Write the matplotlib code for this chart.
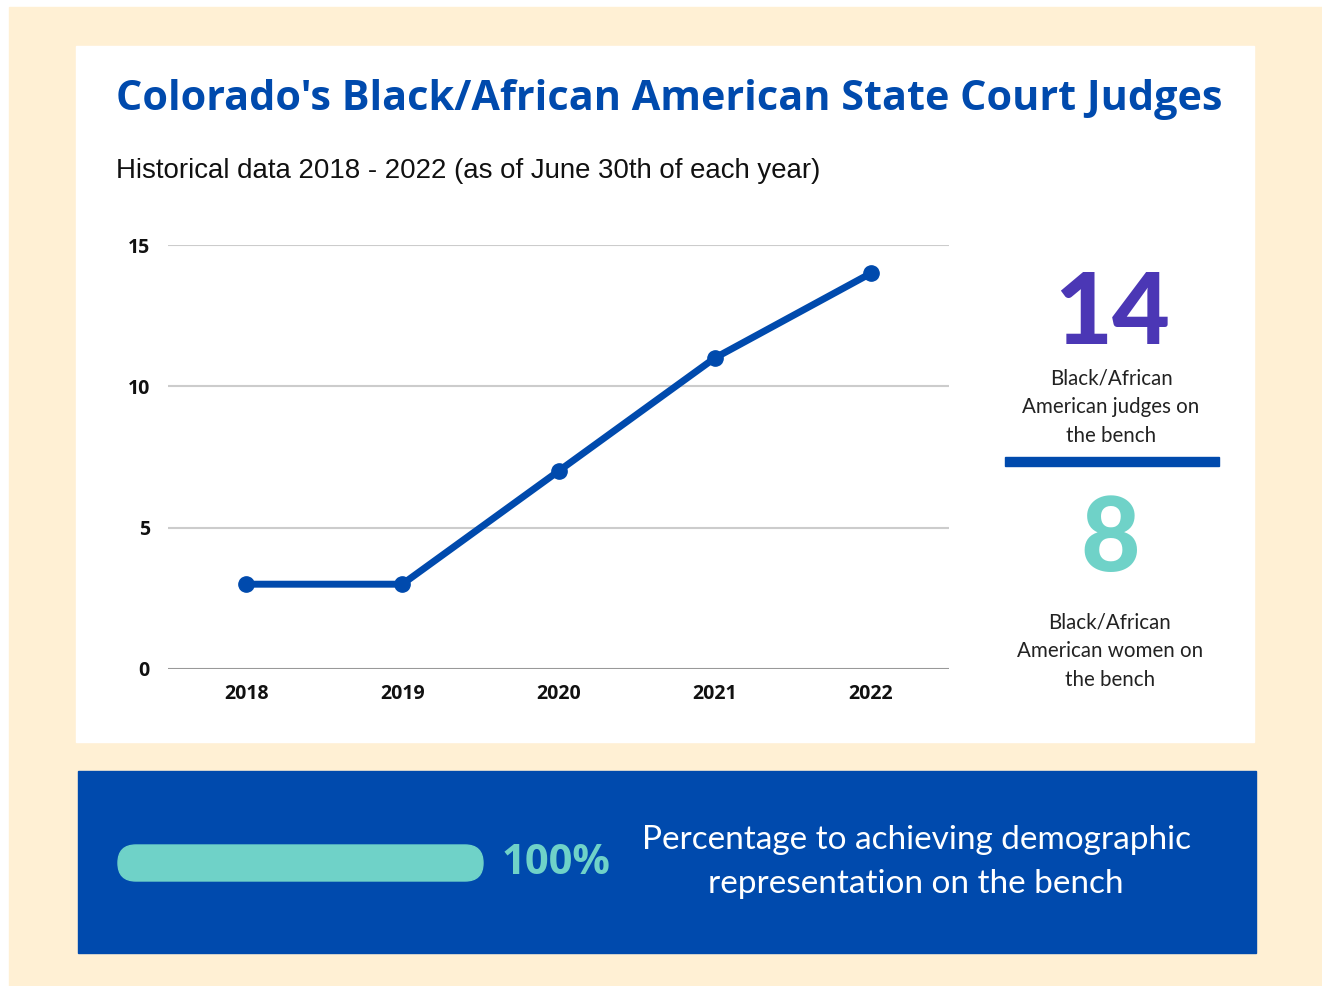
import matplotlib

matplotlib.use("Agg")

import matplotlib.pyplot as plt  # noqa: E402
from matplotlib.patches import FancyBboxPatch, Rectangle  # noqa: E402

# data
years = ["2018", "2019", "2020", "2021", "2022"]
judges = [3, 3, 7, 11, 14]
y_ticks = [0, 5, 10, 15]
total_judges = 14
women_judges = 8
pct_done = 100

BLUE = "#004AAD"
TEAL = "#6FD2C8"
PURPLE = "#4B37B5"
CREAM = "#FFF0D4"

W, H = 1322, 986
fig = plt.figure(figsize=(W / 100, H / 100), dpi=100)

# background canvas in pixel coords
bg = fig.add_axes([0, 0, 1, 1])
bg.set_xlim(0, W)
bg.set_ylim(H, 0)
bg.axis("off")
bg.add_patch(Rectangle((9, 7), W - 9, H - 7, color=CREAM, zorder=0))
bg.add_patch(Rectangle((76, 46), 1178, 696, color="white", zorder=1))
bg.add_patch(Rectangle((78, 771), 1178, 182, color=BLUE, zorder=1))

bg.text(116, 99, "Colorado's Black/African American State Court Judges",
        fontsize=29.8, fontweight="bold", family="Open Sans", color=BLUE,
        ha="left", va="center", zorder=3)
bg.text(116, 171, "Historical data 2018 - 2022 (as of June 30th of each year)",
        fontsize=19.9, family="Liberation Sans", color="#111111",
        ha="left", va="center", zorder=3)

# side stats
bg.text(1112, 316, str(total_judges), fontsize=72, fontweight="black",
        family="Lato", color=PURPLE, ha="center", va="center", zorder=3)
bg.text(1111, 407, "Black/African\nAmerican judges on\nthe bench", fontsize=14.8,
        family="Lato", color="#222222", ha="center", va="center",
        linespacing=1.55, zorder=3)
bg.add_patch(Rectangle((1005, 457), 214, 9, color=BLUE, zorder=3))
bg.text(1110, 541, str(women_judges), fontsize=74, fontweight="black",
        family="Lato", color=TEAL, ha="center", va="center", zorder=3)
bg.text(1110, 651, "Black/African\nAmerican women on\nthe bench", fontsize=14.8,
        family="Lato", color="#222222", ha="center", va="center",
        linespacing=1.55, zorder=3)

# progress pill
bar_len = 365 * pct_done / 100
bg.add_patch(FancyBboxPatch((118, 845), bar_len, 36,
                            boxstyle="round,pad=0,rounding_size=18",
                            color=TEAL, zorder=3))
bg.text(502, 864, f"{pct_done}%", fontsize=30, fontweight="bold",
        family="Open Sans", color=TEAL, ha="left", va="center", zorder=3)
bg.text(916, 862, "Percentage to achieving demographic\nrepresentation on the bench",
        fontsize=24, family="Lato", color="white", ha="center", va="center",
        linespacing=1.55, zorder=3)

# line chart
ax = fig.add_axes([168 / W, (H - 669) / H, (949 - 168) / W, (669 - 245) / H])
ax.set_facecolor("none")
x = range(len(years))
ax.plot(x, judges, color=BLUE, lw=5, marker="o", ms=11, zorder=3,
        solid_capstyle="round")
ax.set_xlim(-0.5, len(years) - 0.5)
ax.set_ylim(0, 15)
for v in y_ticks:
    ax.axhline(v, color="#999999" if v == 0 else "#cccccc", lw=1.5, zorder=1)
ax.set_yticks(y_ticks)
ax.set_xticks(list(x))
ax.set_xticklabels(years)
for s in ax.spines.values():
    s.set_visible(False)
ax.tick_params(length=0, labelsize=14)
ax.tick_params(axis="y", pad=13)
ax.tick_params(axis="x", pad=11)
for lab in ax.get_xticklabels() + ax.get_yticklabels():
    lab.set_fontweight("bold")
    lab.set_family("Open Sans")
    lab.set_color("#111111")

fig.savefig("out.png", dpi=100)
